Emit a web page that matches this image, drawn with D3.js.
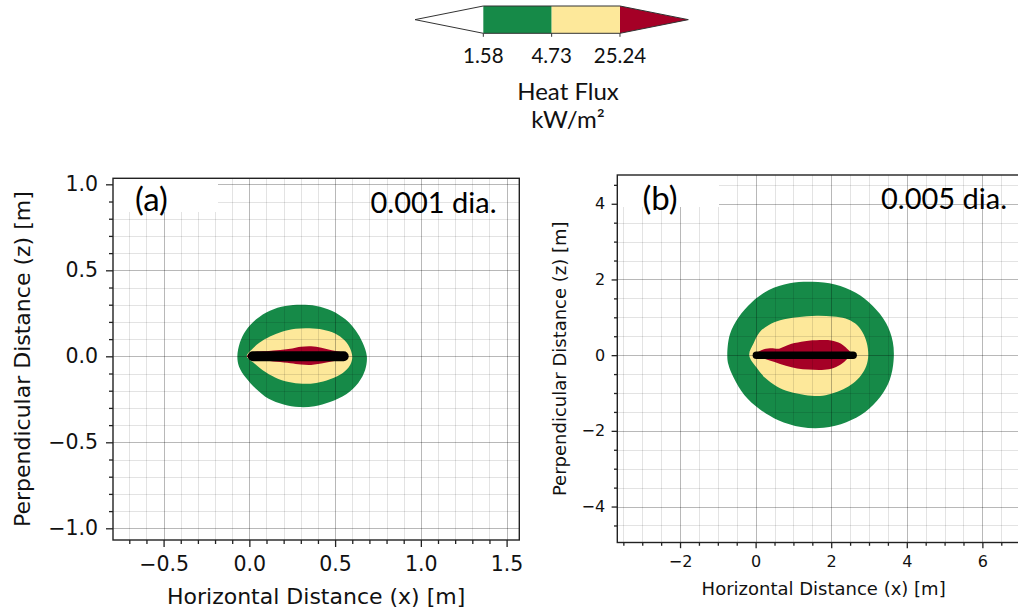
<!DOCTYPE html>
<html><head><meta charset="utf-8">
<script src="https://cdn.jsdelivr.net/npm/d3@7"></script>
<style>body{margin:0;background:#fff}svg{display:block}</style>
</head><body>
<svg id="c" width="1018" height="613"></svg>
<script>
// ---------------- data ----------------
const levelValues = [1.58, 4.73, 25.24];
const levelLabels = ["1.58", "4.73", "25.24"];
const levelColors = ["#168a48", "#fde89a", "#a50026"];
const belowColor = "#ffffff";
const colorbarTitle = ["Heat Flux", "kW/m²"];

// panel (a): 0.001 dia.  contour outlines as [x, z] in metres
const contourA_1_58 = [[-0.07,0.0],[-0.055,0.08],[-0.02,0.15],[0.04,0.215],[0.12,0.265],[0.21,0.292],[0.30,0.30],[0.39,0.293],[0.48,0.265],[0.56,0.215],[0.62,0.15],[0.66,0.08],[0.685,0.0],[0.675,-0.08],[0.635,-0.155],[0.565,-0.22],[0.47,-0.265],[0.38,-0.29],[0.29,-0.295],[0.20,-0.28],[0.11,-0.245],[0.04,-0.19],[-0.02,-0.125],[-0.06,-0.06]];
const contourA_4_73 = [[-0.015,0.0],[0.02,0.045],[0.06,0.08],[0.12,0.115],[0.19,0.143],[0.27,0.16],[0.35,0.163],[0.43,0.155],[0.50,0.133],[0.555,0.093],[0.59,0.04],[0.60,-0.01],[0.585,-0.055],[0.545,-0.097],[0.47,-0.133],[0.39,-0.155],[0.31,-0.16],[0.23,-0.15],[0.15,-0.123],[0.08,-0.083],[0.03,-0.042]];
const contourA_25_24 = [[-0.015,0.0],[0.03,0.025],[0.10,0.03],[0.18,0.036],[0.25,0.045],[0.30,0.055],[0.36,0.058],[0.42,0.05],[0.48,0.035],[0.54,0.022],[0.57,0.0],[0.54,-0.02],[0.48,-0.03],[0.42,-0.042],[0.36,-0.05],[0.30,-0.048],[0.24,-0.04],[0.16,-0.032],[0.08,-0.025],[0.02,-0.018]];
const sourceA = [[0.02,0],[0.55,0]];
const xLimA = [-0.795, 1.574], yLimA = [-1.068, 1.035];
const xTicksA = [-0.5, 0.0, 0.5, 1.0, 1.5], xTickLabelsA = ["−0.5","0.0","0.5","1.0","1.5"];
const yTicksA = [-1.0, -0.5, 0.0, 0.5, 1.0], yTickLabelsA = ["−1.0","−0.5","0.0","0.5","1.0"];
const minorStepA = 0.1;
const labelA = "(a)", diaA = "0.001 dia.";

// panel (b): 0.005 dia.
const contourB_1_58 = [[-0.75,0],[-0.68,0.55],[-0.45,1.0],[-0.1,1.4],[0.35,1.72],[0.9,1.9],[1.5,1.94],[2.1,1.87],[2.65,1.65],[3.1,1.3],[3.45,0.85],[3.63,0.35],[3.65,-0.15],[3.55,-0.65],[3.3,-1.1],[2.9,-1.5],[2.4,-1.77],[1.8,-1.92],[1.2,-1.9],[0.6,-1.72],[0.1,-1.42],[-0.3,-1.05],[-0.58,-0.6],[-0.72,-0.25]];
const contourB_4_73 = [[-0.17,0],[-0.05,0.32],[0.1,0.6],[0.35,0.8],[0.65,0.92],[1.1,1.0],[1.62,1.04],[2.05,1.02],[2.38,0.97],[2.63,0.84],[2.82,0.62],[2.94,0.33],[2.98,0.0],[2.93,-0.28],[2.79,-0.53],[2.58,-0.74],[2.32,-0.9],[2.0,-1.02],[1.7,-1.08],[1.3,-1.05],[0.9,-0.97],[0.55,-0.82],[0.25,-0.6],[0.02,-0.32]];
const contourB_25_24 = [[-0.02,0],[0.15,0.13],[0.38,0.18],[0.62,0.17],[0.75,0.22],[0.95,0.3],[1.3,0.37],[1.7,0.4],[2.0,0.39],[2.25,0.31],[2.42,0.17],[2.54,0.02],[2.42,-0.1],[2.25,-0.25],[2.0,-0.36],[1.75,-0.39],[1.4,-0.38],[1.1,-0.35],[0.8,-0.28],[0.5,-0.18],[0.25,-0.1],[0.08,-0.05]];
const sourceB = [[0.02,0],[2.58,0]];
const xLimB = [-3.66, 7.26], yLimB = [-4.95, 4.76];
const xTicksB = [-2, 0, 2, 4, 6], xTickLabelsB = ["−2","0","2","4","6"];
const yTicksB = [-4, -2, 0, 2, 4], yTickLabelsB = ["−4","−2","0","2","4"];
const minorStepB = 0.5;
const labelB = "(b)", diaB = "0.005 dia.";

const xTitle = "Horizontal Distance (x) [m]";
const yTitle = "Perpendicular Distance (z) [m]";

// ---------------- drawing ----------------
const svg = d3.select("#c");
svg.append("rect").attr("width",1018).attr("height",613).attr("fill","#fff");
const MPL = "DejaVu Sans, sans-serif";
const CAL = "Lato, 'Open Sans', sans-serif";

function minorValues(lim, step, majors){
  const out = [];
  const start = Math.ceil(lim[0]/step - 1e-9), end = Math.floor(lim[1]/step + 1e-9);
  for (let i = start; i <= end; i++){
    const v = +(i*step).toFixed(6);
    if (!majors.some(m => Math.abs(m - v) < 1e-9)) out.push(v);
  }
  return out;
}

function panel(cfg){
  const x = d3.scaleLinear(cfg.xLim, cfg.xRange);
  const y = d3.scaleLinear(cfg.yLim, cfg.yRange);
  const g = svg.append("g");
  const id = "clip" + cfg.id;
  const pw = cfg.xRange[1]-cfg.xRange[0], ph = cfg.yRange[0]-cfg.yRange[1];
  svg.append("clipPath").attr("id", id).append("rect")
    .attr("x", cfg.xRange[0]).attr("y", cfg.yRange[1]).attr("width", pw).attr("height", ph);
  const inner = g.append("g").attr("clip-path", `url(#${id})`);
  const line = d3.line().x(d => x(d[0])).y(d => y(d[1])).curve(d3.curveCatmullRomClosed.alpha(0.5));
  cfg.contours.forEach((c, i) => {
    inner.append("path").attr("d", line(c)).attr("fill", levelColors[i]);
  });
  // grid (drawn over the filled contours)
  const majX = cfg.xTicks, majY = cfg.yTicks;
  const mnX = minorValues(cfg.xLim, cfg.minorStep, majX), mnY = minorValues(cfg.yLim, cfg.minorStep, majY);
  const gridV = (vals, op) => inner.append("g").selectAll("line").data(vals).join("line")
    .attr("x1", d => Math.round(x(d))+0.5).attr("x2", d => Math.round(x(d))+0.5)
    .attr("y1", cfg.yRange[1]).attr("y2", cfg.yRange[0])
    .attr("stroke", "#000").attr("stroke-opacity", op).attr("stroke-width", 1);
  const gridH = (vals, op) => inner.append("g").selectAll("line").data(vals).join("line")
    .attr("y1", d => Math.round(y(d))+0.5).attr("y2", d => Math.round(y(d))+0.5)
    .attr("x1", cfg.xRange[0]).attr("x2", cfg.xRange[1])
    .attr("stroke", "#000").attr("stroke-opacity", op).attr("stroke-width", 1);
  gridV(mnX, 0.11); gridH(mnY, 0.11); gridV(majX, 0.28); gridH(majY, 0.28);
  // source line
  inner.append("path").attr("d", d3.line().x(d => x(d[0])).y(d => y(d[1]))(cfg.source))
    .attr("stroke", "#000").attr("stroke-width", cfg.sourceWidth).attr("stroke-linecap", "round").attr("fill", "none");
  // white label box and labels
  g.append("rect").attr("x", cfg.box[0]).attr("y", cfg.box[1]).attr("width", cfg.box[2]).attr("height", cfg.box[3]).attr("fill", "#fff");
  g.append("text").attr("x", cfg.labelPos[0]).attr("y", cfg.labelPos[1]).text(cfg.label)
    .attr("font-family", CAL).attr("font-size", cfg.panelLabelSize).attr("fill", "#000");
  g.append("text").attr("x", cfg.diaPos[0]).attr("y", cfg.diaPos[1]).text(cfg.dia)
    .attr("text-anchor", "end").attr("font-family", CAL).attr("font-size", cfg.labelSize).attr("fill", "#000");
  // spines
  g.append("rect").attr("x", cfg.xRange[0]).attr("y", cfg.yRange[1]).attr("width", pw).attr("height", ph)
    .attr("fill","none").attr("stroke","#222").attr("stroke-width",1.4);
  // axes
  const ax = d3.axisBottom(x).tickValues(majX).tickFormat((d,i) => cfg.xTickLabels[i]).tickSize(cfg.tickMaj).tickPadding(cfg.xPad).tickSizeOuter(0);
  const axm = d3.axisBottom(x).tickValues(mnX).tickFormat("").tickSize(cfg.tickMin).tickSizeOuter(0);
  const ay = d3.axisLeft(y).tickValues(majY).tickFormat((d,i) => cfg.yTickLabels[i]).tickSize(cfg.tickMaj).tickPadding(cfg.yPad).tickSizeOuter(0);
  const aym = d3.axisLeft(y).tickValues(mnY).tickFormat("").tickSize(cfg.tickMin).tickSizeOuter(0);
  [[ax, `translate(0,${cfg.yRange[0]})`], [axm, `translate(0,${cfg.yRange[0]})`], [ay, `translate(${cfg.xRange[0]},0)`], [aym, `translate(${cfg.xRange[0]},0)`]].forEach(([a, t]) => {
    const ga = g.append("g").attr("transform", t).call(a);
    ga.select(".domain").remove();
    ga.selectAll("line").attr("stroke", "#222").attr("stroke-width", 1.3);
    ga.selectAll("text").attr("font-family", MPL).attr("font-size", cfg.tickFont).attr("fill", "#111");
  });
  // axis titles
  g.append("text").attr("x", (cfg.xRange[0]+cfg.xRange[1])/2).attr("y", cfg.xTitleY)
    .attr("text-anchor","middle").attr("font-family", MPL).attr("font-size", cfg.titleFont).attr("fill","#111").text(xTitle);
  g.append("text").attr("transform", `translate(${cfg.yTitleX},${(cfg.yRange[0]+cfg.yRange[1])/2}) rotate(-90)`)
    .attr("text-anchor","middle").attr("font-family", MPL).attr("font-size", cfg.titleFont).attr("fill","#111").text(yTitle);
}

panel({id:"A", xLim:xLimA, yLim:yLimA, xRange:[113,519.3], yRange:[540,178.3],
  contours:[contourA_1_58, contourA_4_73, contourA_25_24], source:sourceA, sourceWidth:10,
  xTicks:xTicksA, xTickLabels:xTickLabelsA, yTicks:yTicksA, yTickLabels:yTickLabelsA, minorStep:minorStepA,
  tickMaj:7, tickMin:4, xPad:9, yPad:8, tickFont:20.5, titleFont:22, xTitleY:604, yTitleX:30,
  box:[110,178.3,108,33.7], label:labelA, labelPos:[135,211], dia:diaA, diaPos:[496.5,213], labelSize:29, panelLabelSize:33});

panel({id:"B", xLim:xLimB, yLim:yLimB, xRange:[617.3,1030], yRange:[542.5,175],
  contours:[contourB_1_58, contourB_4_73, contourB_25_24], source:sourceB, sourceWidth:7.5,
  xTicks:xTicksB, xTickLabels:xTickLabelsB, yTicks:yTicksB, yTickLabels:yTickLabelsB, minorStep:minorStepB,
  tickMaj:5.7, tickMin:3.3, xPad:7, yPad:6.5, tickFont:16, titleFont:18, xTitleY:595, yTitleX:566,
  box:[614,175,105,32], label:labelB, labelPos:[642.5,210], dia:diaB, diaPos:[1007,209], labelSize:29, panelLabelSize:33});

// ---------------- colorbar ----------------
const cb = svg.append("g");
const cx = d3.scaleLinear([-1, levelValues.length], [415, 688.3]); // index space of boundaries
const cbTop = 6, cbBot = 33.3, cbMid = (cbTop+cbBot)/2;
cb.append("path").attr("d", `M${cx(0)},${cbTop}L${cx(-1)},${cbMid}L${cx(0)},${cbBot}Z`).attr("fill", belowColor);
for (let i = 0; i < levelValues.length - 1; i++){
  cb.append("rect").attr("x", cx(i)).attr("y", cbTop).attr("width", cx(i+1)-cx(i)).attr("height", cbBot-cbTop).attr("fill", levelColors[i]);
}
const n = levelValues.length;
cb.append("path").attr("d", `M${cx(n-1)},${cbTop}L${cx(n)},${cbMid}L${cx(n-1)},${cbBot}Z`).attr("fill", levelColors[n-1]);
cb.append("path").attr("d", `M${cx(0)},${cbTop}L${cx(n-1)},${cbTop}L${cx(n)},${cbMid}L${cx(n-1)},${cbBot}L${cx(0)},${cbBot}L${cx(-1)},${cbMid}Z`)
  .attr("fill","none").attr("stroke","#333").attr("stroke-width",1);
cb.selectAll(".cbt").data(levelValues).join("line")
  .attr("x1", (d,i) => cx(i)).attr("x2", (d,i) => cx(i)).attr("y1", cbBot).attr("y2", cbBot+3.5)
  .attr("stroke","#333").attr("stroke-width",1);
cb.selectAll(".cbl").data(levelLabels).join("text")
  .attr("x", (d,i) => cx(i)).attr("y", 63).attr("text-anchor","middle")
  .attr("font-family", CAL).attr("font-size", 20.5).attr("fill","#111").text(d => d);
cb.append("text").attr("x", 568).attr("y", 100).attr("text-anchor","middle")
  .attr("font-family", CAL).attr("font-size", 24).attr("fill","#111").text(colorbarTitle[0]);
cb.append("text").attr("x", 568).attr("y", 128).attr("text-anchor","middle")
  .attr("font-family", CAL).attr("font-size", 24).attr("fill","#111").text(colorbarTitle[1]);
</script>
</body></html>
